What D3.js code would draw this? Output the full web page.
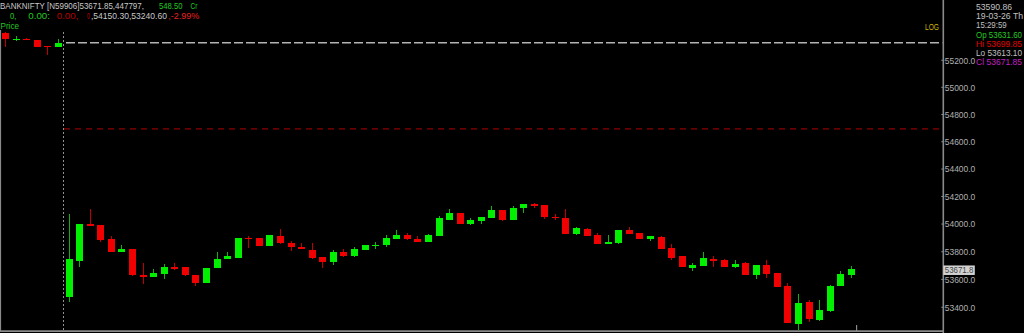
<!DOCTYPE html>
<html><head><meta charset="utf-8">
<script src="https://cdn.jsdelivr.net/npm/d3@7"></script>
<style>html,body{margin:0;padding:0;background:#000;overflow:hidden}svg{display:block}</style>
</head><body>
<svg id="c" width="1024" height="333"></svg>
<script>
const times = ["15:00","15:05","15:10","15:15","15:20","15:25",
"09:15","09:20","09:25","09:30","09:35","09:40","09:45","09:50","09:55","10:00","10:05","10:10",
"10:15","10:20","10:25","10:30","10:35","10:40","10:45","10:50","10:55","11:00","11:05","11:10",
"11:15","11:20","11:25","11:30","11:35","11:40","11:45","11:50","11:55","12:00","12:05","12:10",
"12:15","12:20","12:25","12:30","12:35","12:40","12:45","12:50","12:55","13:00","13:05","13:10",
"13:15","13:20","13:25","13:30","13:35","13:40","13:45","13:50","13:55","14:00","14:05","14:10",
"14:15","14:20","14:25","14:30","14:35","14:40","14:45","14:50","14:55","15:00","15:05","15:10",
"15:15","15:20","15:25"];
const open = [55405,55356,55360,55351,55308,55297,
53472,53733,54000,53993,53892,53800,53817,53634,53620,53639,53692,53690,
53632,53572,53680,53745,53758,53901,53899,53841,53914,53865,53834,53812,
53762,53724,53798,53767,53812,53841,53846,53894,53921,53892,53870,53916,
54032,54078,54004,54022,54044,54102,54029,54114,54143,54138,54053,54046,
53926,53966,53923,53858,53861,53957,53933,53892,53909,53829,53767,53686,
53699,53745,53742,53690,53719,53634,53704,53644,53551,53283,53440,53311,
53376,53553,53631.6];
const high = [55410,55380,55368,55352,55309,55356,
54073,54004,54111,53995,53914,53848,53819,53721,53677,53713,53719,53691,
53633,53682,53798,53800,53901,53916,53900,53920,53966,53875,53865,53865,
53762,53810,53817,53836,53852,53872,53923,53959,53933,53916,53926,54056,
54107,54080,54046,54053,54133,54104,54129,54147,54150.3,54140,54073,54109,
53979,53974,53938,53923,53956,53977,53934,53913,53910,53856,53768,53717,
53796,53767,53744,53738,53728,53706,53742,53646,53575,53496,53452,53455,
53557,53663,53699.85];
const low = [55301,55341,55348,55299,55239,55295,
53440,53692,53986,53870,53796,53796,53628,53565,53618,53601,53670,53628,
53555,53571,53679,53744,53752,53829,53840,53840,53859,53807,53820,53745,
53680,53706,53765,53765,53811,53820,53834,53893,53888,53869,53869,53914,
54030,54001,53991,54000,54042,54025,54028,54082,54114,54037,54032,53928,
53924,53914,53856,53857,53859,53929,53890,53875,53820,53740,53688,53664,
53698,53690,53688,53680,53633,53605,53610,53544,53286,53240.6,53293,53302,
53364,53552,53613.1];
const close = [55356,55360,55355,55301,55297,55330,
53745,54002,53988,53885,53798,53819,53630,53620,53649,53690,53677,53630,
53577,53680,53747,53769,53899,53894,53841,53919,53861,53832,53822,53757,
53724,53796,53767,53817,53851,53849,53899,53919,53890,53870,53919,54044,
54082,54003,54028,54051,54102,54027,54117,54146,54133,54049,54044,53930,
53969,53916,53858,53870,53955,53930,53892,53911,53822,53757,53690,53706,
53752,53738,53690,53714,53634,53704,53641,53546,53288,53433,53318,53379,
53555,53639,53671.85];
const yTicks = [53400,53600,53800,54000,54200,54400,54600,54800,55000,55200];
const prevClose = 55330;
const refLevel = 54694;
const sessionStartIndex = 6;
const headerLine1 = [["BANKNIFTY [N59906]53671.85,447797,","#c8c8c8"],["548.50","#22c822"],["Cr","#22c822"]];
const headerLine2 = [["0,","#22c822"],["0.00:","#22c822"],["0.00,","#b80000"],["0","#c00000"],[",54150.30,53240.60","#c8c8c8"],[",-2.99%","#e82020"]];
const infoLines = [["53590.86","#c0c0c0"],["19-03-26 Th","#c0c0c0"],["15:29:59","#c0c0c0"],["Op 53631.60","#22c822"],["Hi 53699.85","#e00000"],["Lo 53613.10","#c0c0c0"],["Cl 53671.85","#c020c0"]];

const svg = d3.select("#c");
svg.append("rect").attr("width",1024).attr("height",333).attr("fill","#000");
const FONT = "'Liberation Sans', Arial, sans-serif";
const axisX = 943.3;
const x = d3.scaleLinear().domain([0, times.length-1]).range([5.7, 851.3]);
const y = d3.scaleLog().domain([53400, 55200]).range([307.3, 60.3]);

// borders
const grey = "#8a8a8a";
svg.append("line").attr("x1",0.5).attr("x2",0.5).attr("y1",30).attr("y2",331).attr("stroke",grey).attr("stroke-width",1.2);
svg.append("line").attr("x1",0).attr("x2",axisX).attr("y1",331.2).attr("y2",331.2).attr("stroke",grey).attr("stroke-width",1.7);
svg.append("line").attr("x1",axisX).attr("x2",axisX).attr("y1",0).attr("y2",333).attr("stroke",grey).attr("stroke-width",1.6);
svg.append("line").attr("x1",x(80.5)).attr("x2",x(80.5)).attr("y1",325).attr("y2",331).attr("stroke",grey).attr("stroke-width",1.2);

// session separator
const sx = (x(sessionStartIndex-1)+x(sessionStartIndex))/2 - 0.5;
svg.append("line").attr("x1",Math.round(sx)+0.5).attr("x2",Math.round(sx)+0.5).attr("y1",32).attr("y2",331)
  .attr("stroke","#909090").attr("stroke-width",1).attr("stroke-dasharray","2,2");

// reference lines
svg.append("line").attr("x1",66).attr("x2",axisX-1).attr("y1",y(prevClose)).attr("y2",y(prevClose))
  .attr("stroke","#b4b4b4").attr("stroke-width",1.6).attr("stroke-dasharray","9,3");
svg.append("line").attr("x1",64).attr("x2",axisX-1).attr("y1",y(refLevel)).attr("y2",y(refLevel))
  .attr("stroke","#b00000").attr("stroke-width",1).attr("stroke-dasharray","6,5");

// candles
const g = svg.append("g").attr("shape-rendering","crispEdges");
const idx = d3.range(times.length);
g.selectAll("line.w").data(idx).join("line").attr("class","w")
  .attr("x1",i=>Math.floor(x(i))+0.5).attr("x2",i=>Math.floor(x(i))+0.5)
  .attr("y1",i=>y(high[i])).attr("y2",i=>y(low[i]))
  .attr("stroke",i=>close[i]>=open[i]?"#12b012":"#c00000").attr("stroke-width",1);
g.selectAll("rect.b").data(idx).join("rect").attr("class","b")
  .attr("x",i=>Math.floor(x(i))-3).attr("width",7)
  .attr("y",i=>y(Math.max(open[i],close[i])))
  .attr("height",i=>Math.max(1.5, y(Math.min(open[i],close[i]))-y(Math.max(open[i],close[i]))))
  .attr("fill",i=>close[i]>=open[i]?"#00f000":"#f00000");

// y axis
const ax = svg.append("g").attr("transform",`translate(${axisX},0)`);
ax.selectAll("line.t").data(yTicks).join("line").attr("class","t")
  .attr("x1",-2).attr("x2",1).attr("y1",d=>y(d)).attr("y2",d=>y(d)).attr("stroke",grey).attr("stroke-width",1);
ax.selectAll("text").data(yTicks).join("text")
  .attr("x",1.5).attr("y",d=>y(d)+3.4).attr("font-family",FONT).attr("font-size",9.2)
  .attr("fill","#b0b0b0").attr("textLength",30.5).attr("lengthAdjust","spacingAndGlyphs")
  .text(d=>d3.format(".1f")(d));

// last price label
const lastY = y(close[close.length-1]);
svg.append("rect").attr("x",axisX).attr("y",lastY-4).attr("width",31.5).attr("height",9.5).attr("fill","#d2d2d2");
svg.append("text").attr("x",axisX+1.5).attr("y",lastY+3.6).attr("font-family",FONT).attr("font-size",9.2)
  .attr("fill","#444").attr("textLength",28.5).attr("lengthAdjust","spacingAndGlyphs")
  .text(d3.format(".1f")(Math.floor(close[close.length-1]*10)/10));

// LOG label
svg.append("text").attr("x",925).attr("y",30).attr("font-family",FONT).attr("font-size",8.6)
  .attr("fill","#d0b400").attr("textLength",14).attr("lengthAdjust","spacingAndGlyphs").text("LOG");

// header
const l1x = [[0,144],[159,182.5],[190.5,197.5]];
headerLine1.forEach((s,k)=>svg.append("text").attr("x",l1x[k][0]).attr("y",9.2).attr("font-family",FONT)
  .attr("font-size",8.6).attr("fill",s[1]).attr("textLength",l1x[k][1]-l1x[k][0]).attr("lengthAdjust","spacingAndGlyphs").text(s[0]));
const l2x = [[10,16.5],[28.3,50],[56.7,78.5],[87,89.8],[91,167],[168.3,199.3]];
headerLine2.forEach((s,k)=>svg.append("text").attr("x",l2x[k][0]).attr("y",19.3).attr("font-family",FONT)
  .attr("font-size",8.6).attr("fill",s[1]).attr("textLength",l2x[k][1]-l2x[k][0]).attr("lengthAdjust","spacingAndGlyphs").text(s[0]));
svg.append("text").attr("x",0.5).attr("y",28.6).attr("font-family",FONT).attr("font-size",8.6)
  .attr("fill","#22c822").attr("textLength",18.5).attr("lengthAdjust","spacingAndGlyphs").text("Price");

// info panel
const infoY = [9.5,19.2,28.2,38.2,47.2,56.2,65.4];
const infoW = [36,47,30.7,46,46,46,46];
infoLines.forEach((s,k)=>svg.append("text").attr("x",976).attr("y",infoY[k]).attr("font-family",FONT)
  .attr("font-size",8.8).attr("fill",s[1]).attr("textLength",infoW[k]).attr("lengthAdjust","spacingAndGlyphs").text(s[0]));
</script>
</body></html>
